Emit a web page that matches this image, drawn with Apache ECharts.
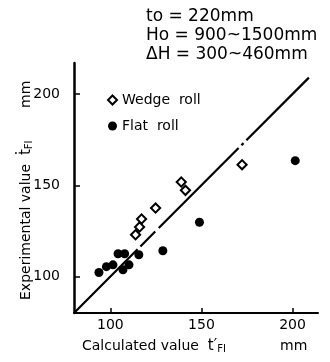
<!DOCTYPE html>
<html>
<head>
<meta charset="utf-8">
<script src="https://cdn.jsdelivr.net/npm/echarts@6/dist/echarts.min.js"></script>
<style>
html, body { margin: 0; padding: 0; background: #fff; }
#chart { width: 330px; height: 362px; }
</style>
</head>
<body>
<div id="chart"></div>
<script>
// data (calculated, experimental) in mm
var wedgeCalc = [113.8, 116.0, 117.1, 124.8, 138.9, 141.2, 172.3];
var wedgeExp  = [122.9, 127.1, 131.5, 137.5, 151.8, 147.2, 161.3];
var flatCalc = [93.7, 97.8, 101.4, 104.2, 107.8, 106.9, 110.2, 115.6, 128.8, 148.9, 201.5];
var flatExp  = [102.2, 105.4, 106.4, 112.5, 112.5, 103.7, 106.4, 111.9, 114.1, 129.7, 163.5];
var diagLine = [80, 209];
var xTicks = [100, 150, 200];
var yTicks = [100, 150, 200];
var notes = ['to = 220mm', 'Ho = 900~1500mm', '\u0394H = 300~460mm'];

var font = 'DejaVu Sans';

function pairs(xs, ys) {
	var out = [];
	for (var i = 0; i < xs.length; i++) {
		out.push([xs[i], ys[i]]);
	}
	return out;
}

var myChart = echarts.init(document.getElementById('chart'));

var subRich = {
	t : { fontSize : 15, fontFamily : font },
	s : { fontSize : 10, fontFamily : font, verticalAlign : 'bottom', padding : [4, 0, 0, 0] }
};

var option = {
	backgroundColor : '#fff',
	animation : false,
	textStyle : { fontFamily : font, color : '#000' },
	grid : { left : 74, right : 12, top : 63, bottom : 49 },
	legend : {
		orient : 'vertical',
		left : 107,
		top : 93,
		padding : 0,
		itemGap : 12,
		itemWidth : 9,
		itemHeight : 9,
		formatter : function(name) { return name.replace(' ', '  '); },
		textStyle : { fontFamily : font, fontSize : 14, color : '#000' },
		data : [
			{ name : 'Wedge roll', icon : 'path://M5,0L10,5L5,10L0,5Z' },
			{ name : 'Flat roll', icon : 'circle' }
		]
	},
	xAxis : {
		type : 'value',
		min : 80,
		max : 214,
		interval : 50,
		splitLine : { show : false },
		axisLine : { onZero : false, lineStyle : { color : '#000', width : 2 } },
		axisTick : { inside : true, length : 5, lineStyle : { color : '#000', width : 1.5 },
			customValues : xTicks },
		axisLabel : { customValues : xTicks, fontSize : 14, color : '#000', margin : 5, fontFamily : font }
	},
	yAxis : {
		type : 'value',
		min : 80,
		max : 217,
		splitLine : { show : false },
		axisLine : { onZero : false, lineStyle : { color : '#000', width : 2.5 } },
		axisTick : { inside : true, length : 6, lineStyle : { color : '#000', width : 1.5 },
			customValues : yTicks },
		axisLabel : { customValues : yTicks, fontSize : 14, color : '#000', margin : 14, fontFamily : font }
	},
	graphic : [
		{ type : 'text', left : 146, top : 8, style : { text : notes[0], font : '17px ' + font, fill : '#000' } },
		{ type : 'text', left : 146, top : 27, style : { text : notes[1], font : '17px ' + font, fill : '#000' } },
		{ type : 'text', left : 146, top : 46, style : { text : notes[2], font : '17px ' + font, fill : '#000' } },
		{
			type : 'text', left : 82, top : 339,
			style : {
				text : 'Calculated value  {t|t\u2032}{s|FI}',
				font : '14px ' + font, fill : '#000',
				rich : subRich
			}
		},
		{ type : 'text', left : 280, top : 339, style : { text : 'mm', font : '14px ' + font, fill : '#000' } },
		{
			type : 'text', x : 19, y : 300, rotation : Math.PI / 2,
			style : {
				text : 'Experimental value  {t|\u1e6b}{s|FI}',
				font : '14px ' + font, fill : '#000',
				rich : subRich
			}
		},
		{
			type : 'text', x : 19, y : 108, rotation : Math.PI / 2,
			style : { text : 'mm', font : '14px ' + font, fill : '#000' }
		}
	],
	series : [
		{
			name : 'diag',
			type : 'line',
			data : [[diagLine[0], diagLine[0]], [diagLine[1], diagLine[1]]],
			showSymbol : false,
			silent : true,
			lineStyle : { color : '#000', width : 2.2, type : [90, 4, 21, 5, 113, 4, 3, 4, 300] },
			z : 1
		},
		{
			name : 'Wedge roll',
			type : 'scatter',
			data : pairs(wedgeCalc, wedgeExp),
			symbol : 'rect',
			symbolSize : 6.5,
			symbolRotate : 45,
			itemStyle : { color : '#fff', borderColor : '#000', borderWidth : 2, opacity : 1 },
			z : 3
		},
		{
			name : 'Flat roll',
			type : 'scatter',
			data : pairs(flatCalc, flatExp),
			symbol : 'circle',
			symbolSize : 9,
			itemStyle : { color : '#000', opacity : 1 },
			z : 2
		}
	]
};

myChart.setOption(option);
</script>
</body>
</html>
